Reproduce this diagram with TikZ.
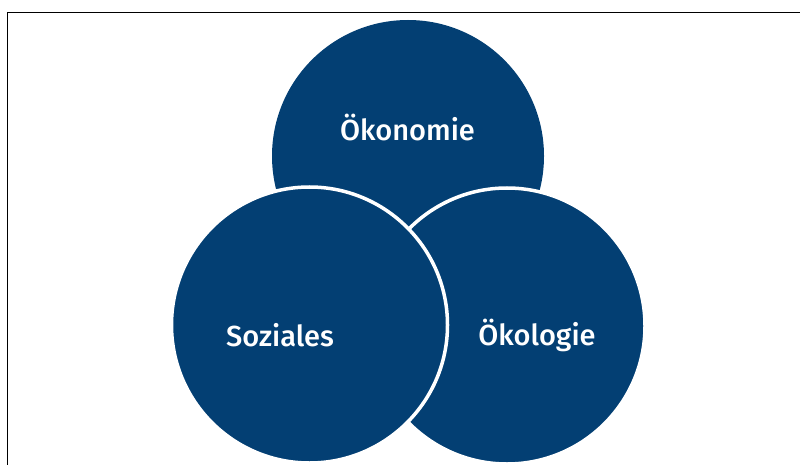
\documentclass[tikz,border=0pt]{standalone}
\usepackage{fontspec}
\newfontfamily\lab{Fira Sans}[UprightFont={* Medium}]
\definecolor{navy}{HTML}{033F73}
\begin{document}
\begin{tikzpicture}[x=1pt,y=-1pt,
  ring/.style={circle, fill=navy, draw=white, line width=3.5pt, minimum size=276pt, inner sep=0pt},
  lbl/.style={text=white, font=\lab\fontsize{29}{32}\selectfont}]
\useasboundingbox (0,0) rectangle (800,465);
\draw[line width=1.5pt] (7.5,470) -- (7.5,12.5) -- (805,12.5);
\node[ring, draw=none, minimum size=272pt] (oek) at (408,156) {};
\node[ring] (ekol) at (507,326) {};
\node[ring] (soz) at (309.5,325) {};
\node[lbl] (toek) at (407.5,128) {Ökonomie};
\node[lbl] (tsoz) at (280,335) {Soziales};
\node[lbl] (tekol) at (537,335) {Ökologie};
\end{tikzpicture}
\end{document}
